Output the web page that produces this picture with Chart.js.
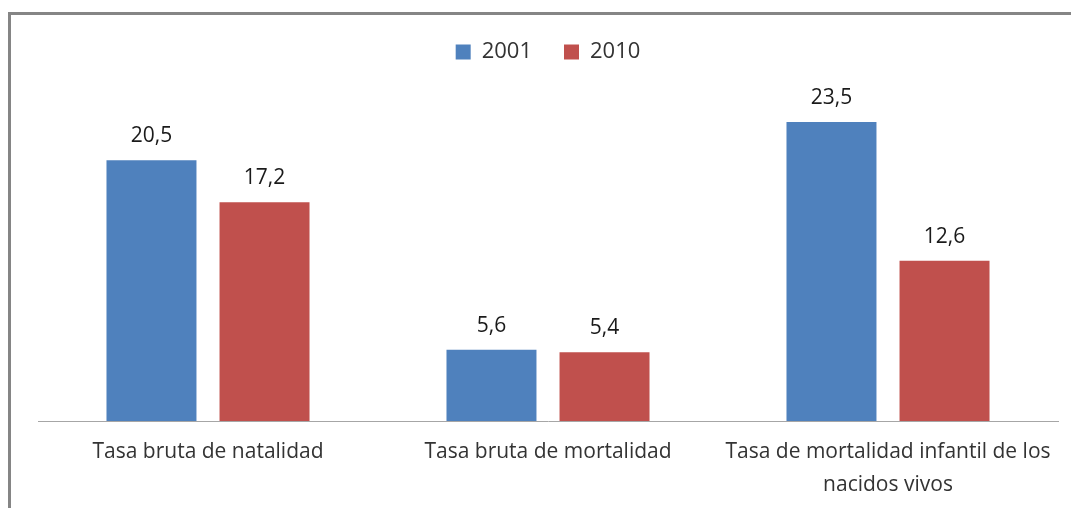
<!DOCTYPE html>
<html>
<head>
<meta charset="utf-8">
<script src="https://cdn.jsdelivr.net/npm/chart.js@4"></script>
<style>
  html, body { margin: 0; padding: 0; background: #fff; overflow: hidden; }
  .wrap { position: relative; width: 1071px; height: 508px; }
  .frame { position: absolute; left: 8px; top: 12px; width: 1200px; height: 600px;
           border: 3px solid #858585; box-sizing: border-box; }
  canvas { position: absolute; left: 0; top: 0; }
</style>
</head>
<body>
<div class="wrap">
  <div class="frame"></div>
  <canvas id="myChart" width="1071" height="508"></canvas>
</div>
<script>
const categories = [
  "Tasa bruta de natalidad",
  "Tasa bruta de mortalidad",
  ["Tasa de mortalidad infantil de los", "nacidos vivos"]
]
const values2001 = [20.5, 5.6, 23.5]
const values2010 = [17.2, 5.4, 12.6]
const seriesNames = ["2001", "2010"]

const fontFamily = "'Open Sans', 'Noto Sans', sans-serif"

// draws the number above each bar
const barLabels = {
  id: "barLabels",
  afterDatasetsDraw(chart) {
    const ctx = chart.ctx
    ctx.save()
    ctx.font = "21px " + fontFamily
    ctx.fillStyle = "#1a1a1a"
    ctx.textAlign = "center"
    ctx.textBaseline = "middle"
    chart.data.datasets.forEach((ds, i) => {
      chart.getDatasetMeta(i).data.forEach((bar, j) => {
        ctx.fillText(ds.data[j].toFixed(1).replace(".", ","), bar.x, bar.y - 24)
      })
    })
    ctx.restore()
  }
}

// push the plot area down below the legend
const legendSpace = {
  id: "legendSpace",
  beforeInit(chart) {
    const origFit = chart.legend.fit
    chart.legend.fit = function () {
      origFit.bind(chart.legend)()
      this.height = 94
    }
  }
}

const data = {
  labels: categories,
  datasets: [
    { label: seriesNames[0], data: values2001, backgroundColor: "#4f81bd" },
    { label: seriesNames[1], data: values2010, backgroundColor: "#c0504d" }
  ]
}

const config = {
  type: "bar",
  data: data,
  options: {
    responsive: false,
    animation: false,
    categoryPercentage: 0.665,
    barPercentage: 0.796,
    layout: { padding: { left: 38, right: 13, top: 9, bottom: 0 } },
    plugins: {
      legend: {
        position: "top",
        labels: {
          boxWidth: 15, boxHeight: 15, padding: 32,
          color: "#333", font: { family: fontFamily, size: 22 }
        }
      },
      tooltip: { enabled: false }
    },
    scales: {
      x: {
        grid: { display: false, drawTicks: false },
        border: { color: "#a6a6a6", width: 1 },
        afterFit(scale) { scale.height = 87 },
        ticks: {
          color: "#333", padding: 15, maxRotation: 0, autoSkip: false,
          font: { family: fontFamily, size: 21, lineHeight: 1.55 }
        }
      },
      y: {
        display: false,
        min: 0,
        max: 25
      }
    }
  },
  plugins: [barLabels, legendSpace]
}

new Chart(document.getElementById("myChart"), config)
</script>
</body>
</html>
